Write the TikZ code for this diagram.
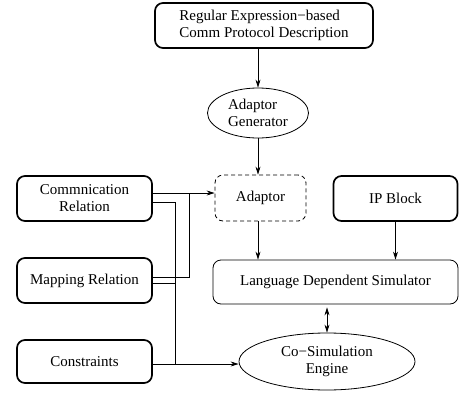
\documentclass[tikz,border=0pt]{standalone}
\usepackage{fontspec}
\setmainfont{Liberation Serif}
\usetikzlibrary{arrows.meta,shapes.geometric,calc}
\begin{document}
\begin{tikzpicture}[x=1pt,y=-1pt,
  font=\fontsize{15}{17}\selectfont,
  thickbox/.style={draw,line width=1.7pt,rounded corners=8pt,inner sep=0pt},
  thinbox/.style={draw,line width=0.8pt,rounded corners=8pt,inner sep=0pt},
  dashbox/.style={draw,line width=0.8pt,dashed,dash pattern=on 4pt off 3pt,rounded corners=8pt,inner sep=0pt},
  ell/.style={draw,ellipse,line width=0.8pt,inner sep=0pt},
  conn/.style={line width=0.8pt},
  arr/.style={line width=0.8pt,-{Stealth[length=8pt,width=5pt]}},
  darr/.style={line width=0.8pt,{Stealth[length=8pt,width=5pt]}-{Stealth[length=8pt,width=5pt]}}]
\useasboundingbox (0,0) rectangle (459,394);
\node[thickbox,minimum width=218pt,minimum height=45pt,align=left] (top) at (264,25.5) {Regular Expression−based\\Comm Protocol Description};
\node[ell,minimum width=101pt,minimum height=50pt,align=left] (adgen) at (258,113) {Adaptor\\Generator};
\node[dashbox,minimum width=91pt,minimum height=46pt] (adaptor) at (260.5,198) {Adaptor};
\node[thickbox,minimum width=124pt,minimum height=45pt] (ip) at (395.5,198.5) {IP Block};
\node[thinbox,minimum width=245pt,minimum height=44pt] (lds) at (335.5,282) {Language Dependent Simulator};
\node[ell,minimum width=176pt,minimum height=57pt,align=center] (cosim) at (327,361.5) {Co−Simulation\\Engine};
\node[thickbox,minimum width=135pt,minimum height=45pt,align=center] (comm) at (84.5,198.5) {Commnication\\Relation};
\node[thickbox,minimum width=135pt,minimum height=45pt] (map) at (84.5,280.5) {Mapping Relation};
\node[thickbox,minimum width=135pt,minimum height=43pt] (cons) at (84.5,361.5) {Constraints};
\coordinate (j1) at (189,193);
\coordinate (j2) at (175,364);
% vertical arrows
\draw[arr] (top.south -| adgen.north) -- (adgen.north);
\draw[arr] (adgen.south) -- (adgen.south |- adaptor.north);
\draw[arr] (adaptor.south -| adgen.south) -- (adgen.south |- lds.north);
\draw[arr] (ip.south) -- (ip.south |- lds.north);
\draw[darr] ([yshift=-3pt]lds.south -| cosim.north) -- (cosim.north);
% left connectors
\draw[arr] ([yshift=5.5pt]comm.east) -- ([yshift=5.5pt]comm.east -| adaptor.west);
\draw[conn] ([yshift=3.5pt]map.east) -| (j1);
\draw[conn] ([yshift=-3.5pt]comm.east) -| (j2);
\draw[conn] ([yshift=-2.5pt]map.east) -- ([yshift=-2.5pt]map.east -| j2);
\draw[arr] ([yshift=-2.5pt]cons.east) -- ([yshift=-2.5pt]cosim.west);
\end{tikzpicture}
\end{document}
